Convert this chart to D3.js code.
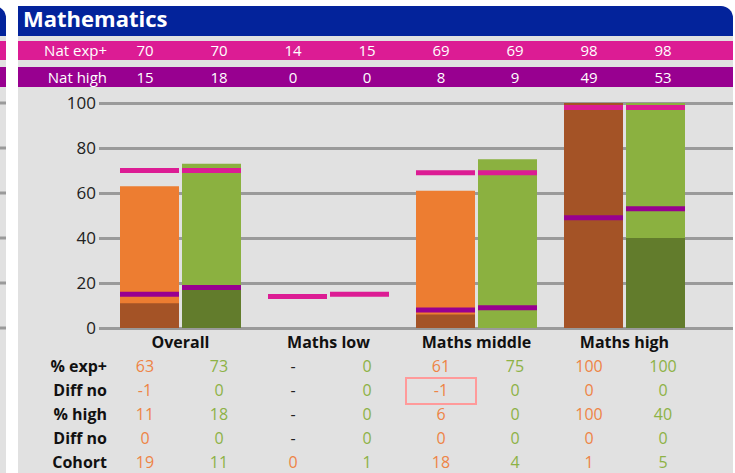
<!DOCTYPE html>
<html lang="en">
<head>
<meta charset="UTF-8">
<title>Mathematics</title>
<style>
  body { margin: 0; background: #fff; }
  svg { display: block; font-family: "Open Sans", sans-serif; }
</style>
</head>
<body>
<div id="chart"></div>
<script src="https://cdnjs.cloudflare.com/ajax/libs/d3/7.8.5/d3.min.js"></script>
<script>
// data
var categories = ["Overall", "Maths low", "Maths middle", "Maths high"];
var expOrange  = [63, null, 61, 100];
var expGreen   = [73, 0, 75, 100];
var highOrange = [11, null, 6, 100];
var highGreen  = [18, 0, 0, 40];
var diffExpOrange  = [-1, null, -1, 0];
var diffExpGreen   = [0, 0, 0, 0];
var diffHighOrange = [0, null, 0, 0];
var diffHighGreen  = [0, 0, 0, 0];
var cohortOrange = [19, 0, 18, 1];
var cohortGreen  = [11, 1, 4, 5];
var natExp  = [70, 70, 14, 15, 69, 69, 98, 98];
var natHigh = [15, 18, 0, 0, 8, 9, 49, 53];
var rowLabels = ["% exp+", "Diff no", "% high", "Diff no", "Cohort"];
var yTicks = [0, 20, 40, 60, 80, 100];

var W = 735, H = 473;
var panelX0 = 18, panelX1 = 733;
var colors = {
  blue: "#03239b", pink: "#dc1c94", purple: "#980090", bg: "#e1e1e1", grid: "#9a9a9a",
  orange: "#ed7d31", orangeDark: "#a45326", green: "#8bb140", greenDark: "#627c2c",
  orangeText: "#ee8446", greenText: "#8db246"
};

// one column per bar: orange then green in each group
var cols = [];
categories.forEach(function(c, g) {
  cols.push({cat: c, s: 0, exp: expOrange[g], high: highOrange[g],
    vals: [expOrange[g], diffExpOrange[g], highOrange[g], diffHighOrange[g], cohortOrange[g]]});
  cols.push({cat: c, s: 1, exp: expGreen[g], high: highGreen[g],
    vals: [expGreen[g], diffExpGreen[g], highGreen[g], diffHighGreen[g], cohortGreen[g]]});
});
cols.forEach(function(d, i) { d.i = i; d.natExp = natExp[i]; d.natHigh = natHigh[i]; });

var svg = d3.select("#chart").append("svg").attr("width", W).attr("height", H);

var y = d3.scaleLinear().domain([0, 100]).range([328, 103]);
var x0 = d3.scaleBand().domain(categories).range([106.5, 698.5]);
var x1 = d3.scaleBand().domain([0, 1]).range([13.5, 134.5]).paddingInner(0.0484);
var xc = d3.scalePoint().domain(d3.range(8)).range([145, 663]);

function panelBg(g, left, right) {
  g.append("rect").attr("x", left).attr("y", 36).attr("width", right - left).attr("height", H - 36)
    .attr("fill", colors.bg);
  var r = 12;
  g.append("path")
    .attr("d", "M" + left + ",6 H" + (right - r) + " A" + r + "," + r + " 0 0 1 " + right + "," + (6 + r) +
      " V36 H" + left + " Z")
    .attr("fill", colors.blue);
  g.append("rect").attr("x", left).attr("y", 41).attr("width", right - left).attr("height", 19).attr("fill", colors.pink);
  g.append("rect").attr("x", left).attr("y", 67).attr("width", right - left).attr("height", 20).attr("fill", colors.purple);
}

// bit of the previous panel on the far left
var prev = svg.append("g");
panelBg(prev, -700, 6);
prev.selectAll("line.g").data(yTicks).enter().append("line")
  .attr("x1", 0).attr("x2", 6).attr("y1", d => y(d)).attr("y2", d => y(d))
  .attr("stroke", colors.grid).attr("stroke-width", 3);

var panel = svg.append("g");
panelBg(panel, panelX0, panelX1);

panel.append("text").attr("x", 23).attr("y", 27).text("Mathematics")
  .attr("fill", "#fff").attr("font-weight", "bold").attr("font-size", "22px");

// national bands
var bands = [{label: "Nat exp+", key: "natExp", y: 56}, {label: "Nat high", key: "natHigh", y: 83}];
bands.forEach(function(b) {
  panel.append("text").attr("x", 107).attr("y", b.y).attr("text-anchor", "end")
    .attr("fill", "#fff").attr("font-size", "15px").text(b.label);
  panel.selectAll(null).data(cols).enter().append("text")
    .attr("x", d => xc(d.i)).attr("y", b.y).attr("text-anchor", "middle")
    .attr("fill", "#fff").attr("font-size", "15px").text(d => d[b.key]);
});

// y axis + gridlines
var axis = panel.append("g").attr("transform", "translate(99,0)")
  .call(d3.axisLeft(y).tickValues(yTicks).tickSize(-(panelX1 - 99)).tickPadding(3));
axis.select(".domain").remove();
axis.selectAll(".tick line").attr("stroke", colors.grid).attr("stroke-width", 3);
axis.selectAll(".tick text").attr("fill", "#222").attr("font-size", "17px")
  .attr("font-family", "Open Sans, sans-serif");

// bars
var bw = x1.bandwidth();
var bars = panel.selectAll("g.bar").data(cols).enter().append("g")
  .attr("transform", d => "translate(" + (x0(d.cat) + x1(d.s)) + ",0)");

bars.filter(d => d.exp).append("rect")
  .attr("y", d => y(d.exp)).attr("width", bw).attr("height", d => y(0) - y(d.exp))
  .attr("fill", d => d.s ? colors.green : colors.orange);
bars.filter(d => d.high).append("rect")
  .attr("y", d => y(d.high)).attr("width", bw).attr("height", d => y(0) - y(d.high))
  .attr("fill", d => d.s ? colors.greenDark : colors.orangeDark);
bars.filter(d => d.natExp).append("rect")
  .attr("y", d => y(d.natExp) - 2.5).attr("width", bw).attr("height", 5).attr("fill", colors.pink);
bars.filter(d => d.natHigh).append("rect")
  .attr("y", d => y(d.natHigh) - 2.5).attr("width", bw).attr("height", 5).attr("fill", colors.purple);

// category labels
panel.selectAll("text.cat").data(categories).enter().append("text")
  .attr("x", d => x0(d) + x0.bandwidth() / 2).attr("y", 348).attr("text-anchor", "middle")
  .attr("font-weight", "bold").attr("font-size", "16px").attr("fill", "#111").text(d => d);

// table
var rowY = d => 372 + d * 24;
panel.selectAll("text.row").data(rowLabels).enter().append("text")
  .attr("x", 107).attr("y", (d, i) => rowY(i)).attr("text-anchor", "end")
  .attr("font-weight", "bold").attr("font-size", "16px").attr("fill", "#111").text(d => d);

rowLabels.forEach(function(r, ri) {
  panel.selectAll(null).data(cols).enter().append("text")
    .attr("x", d => xc(d.i)).attr("y", rowY(ri)).attr("text-anchor", "middle").attr("font-size", "16px")
    .attr("fill", d => d.vals[ri] == null ? "#222" : (d.s ? colors.greenText : colors.orangeText))
    .text(d => d.vals[ri] == null ? "-" : d.vals[ri]);
});

// highlight box: Maths middle, first Diff no
panel.append("rect")
  .attr("x", xc(4) - 35).attr("y", rowY(1) - 18).attr("width", 70).attr("height", 26)
  .attr("fill", "none").attr("stroke", "#ff9a9a").attr("stroke-width", 2);
</script>
</body>
</html>
